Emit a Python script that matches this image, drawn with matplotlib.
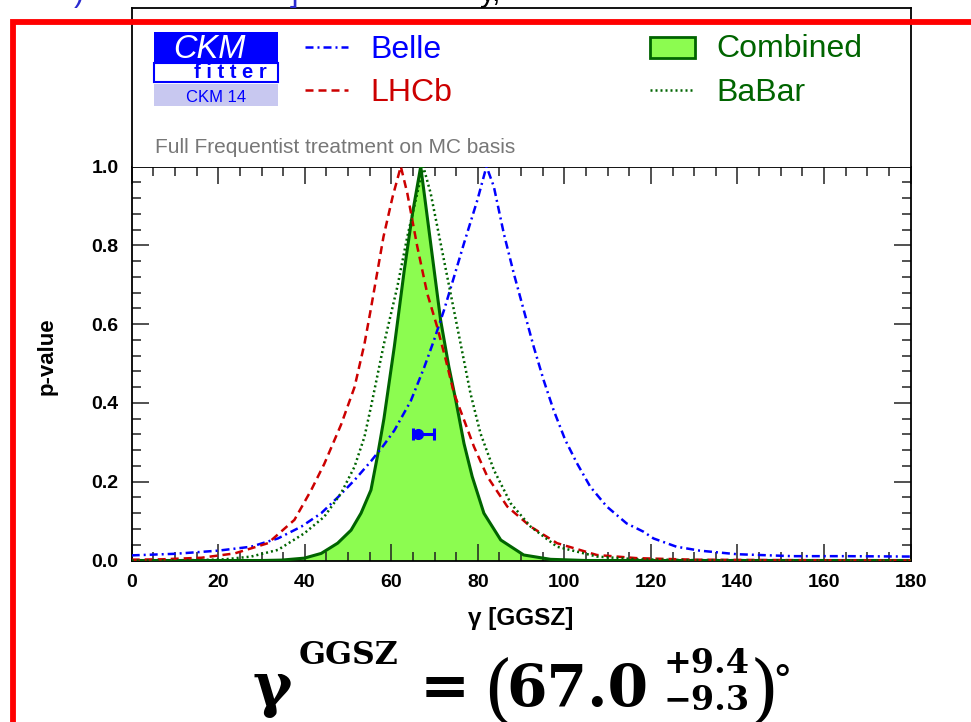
import matplotlib
matplotlib.use('Agg')
import matplotlib.pyplot as plt
from matplotlib.patches import Rectangle
from matplotlib.ticker import MultipleLocator

plt.rcParams['font.family'] = ['Liberation Sans', 'DejaVu Sans']

# --- values (gamma in degrees, p-value) ---
g_belle = [0, 10, 20, 27.6, 33.8, 39.2, 43.8, 47.6, 51.5, 55.3, 58.2, 60.7, 64.5, 67.6,
           69.9, 72.2, 74.5, 76.8, 79.9, 82.0, 83.7, 86.0, 88.3, 90.6, 92.9, 95.2, 97.5,
           100.2, 102.9, 106.0, 109.8, 114.4, 118.3, 120.6, 125.9, 131.3, 139.8, 152.8, 165, 180]
p_belle = [0.013, 0.017, 0.025, 0.035, 0.056, 0.086, 0.120, 0.160, 0.204, 0.252, 0.292, 0.330,
           0.405, 0.490, 0.560, 0.636, 0.720, 0.805, 0.915, 1.0, 0.949, 0.830, 0.729, 0.636,
           0.543, 0.458, 0.382, 0.306, 0.247, 0.187, 0.137, 0.094, 0.073, 0.056, 0.035, 0.025,
           0.016, 0.011, 0.011, 0.010]

g_lhcb = [0, 7, 16.1, 23.8, 31.5, 37.6, 41.5, 44.5, 48.4, 51.5, 53.8, 55.3, 58.2, 60.3, 62.2,
          63.7, 66.0, 68.3, 70.6, 72.6, 74.5, 76.8, 79.1, 82.2, 86.8, 92.2, 98.3, 107.5, 116.7,
          130, 150, 180]
p_lhcb = [0.002, 0.003, 0.007, 0.018, 0.044, 0.103, 0.179, 0.245, 0.345, 0.440, 0.550, 0.640,
          0.822, 0.923, 1.0, 0.932, 0.797, 0.678, 0.593, 0.509, 0.424, 0.357, 0.289, 0.213,
          0.137, 0.086, 0.044, 0.014, 0.006, 0.002, 0.001, 0.0]

g_babar = [0, 15, 21.5, 27.6, 33.8, 39.9, 44.5, 48.4, 51.5, 53.8, 55.3, 56.8, 58.3, 61.4, 63.7,
           66.0, 67.4, 69.1, 71.4, 73.7, 76.0, 78.3, 80.6, 83.7, 87.6, 92.2, 98.3, 107.5, 116.7,
           130, 180]
p_babar = [0.0, 0.001, 0.003, 0.010, 0.027, 0.069, 0.111, 0.171, 0.238, 0.314, 0.390, 0.470,
           0.550, 0.695, 0.822, 0.932, 1.0, 0.932, 0.805, 0.678, 0.551, 0.424, 0.323, 0.230,
           0.145, 0.086, 0.035, 0.010, 0.003, 0.001, 0.0]

g_comb = [0, 30, 34.6, 39.9, 43.8, 47.6, 50.7, 53.0, 55.3, 56.8, 58.3, 60.7, 63.0, 64.9, 66.8,
          68.3, 69.9, 71.4, 73.3, 74.9, 76.8, 78.7, 81.4, 85.3, 90.6, 96.8, 105, 180]
p_comb = [0.0, 0.0, 0.001, 0.006, 0.018, 0.044, 0.077, 0.120, 0.179, 0.265, 0.360, 0.543, 0.737,
          0.881, 1.0, 0.873, 0.737, 0.610, 0.492, 0.407, 0.297, 0.213, 0.120, 0.052, 0.014,
          0.003, 0.0, 0.0]

point_g, point_p = 66.1, 0.32
point_err = [[1.2], [3.8]]

labels = ['Belle', 'LHCb', 'Combined', 'BaBar']
central, err_up, err_dn = '67.0', '+9.4', '\u22129.3'

# colours / styles
blue = '#0000ff'
red = '#cc0000'
dkgreen = '#006400'
ltgreen = '#8cfc50'
ls_belle = (0, (3.2, 1.6, 0.8, 1.6))
ls_lhcb = (0, (3.2, 2.0))
ls_babar = (0, (0.8, 1.2))

W, H = 971, 722
fig = plt.figure(figsize=(W / 100, H / 100), dpi=100)


def fx(px):
    return px / W


def fy(py):
    return 1 - py / H


ax_l, ax_r, ax_t, ax_b, head_t = 131.7, 910.5, 166.5, 560.5, 8
ax = fig.add_axes([fx(ax_l), fy(ax_b), (ax_r - ax_l) / W, (ax_b - ax_t) / H])
axh = fig.add_axes([fx(ax_l), fy(ax_t), (ax_r - ax_l) / W, (ax_t - head_t) / H])

## main plot
ax.fill_between(g_comb, p_comb, color=ltgreen, lw=0, zorder=1)
ax.plot(g_comb, p_comb, color=dkgreen, lw=2.2, zorder=3)
ax.plot(g_belle, p_belle, color=blue, lw=1.8, ls=ls_belle, zorder=3)
ax.plot(g_lhcb, p_lhcb, color=red, lw=1.8, ls=ls_lhcb, zorder=3)
ax.plot(g_babar, p_babar, color=dkgreen, lw=1.8, ls=ls_babar, zorder=3)
ax.errorbar([point_g], [point_p], xerr=point_err, fmt='o', color=blue, ms=7,
            capsize=4, capthick=2.2, elinewidth=2.2, zorder=4)

ax.set_xlim(0, 180)
ax.set_ylim(0, 1)
ax.xaxis.set_major_locator(MultipleLocator(20))
ax.xaxis.set_minor_locator(MultipleLocator(5))
ax.yaxis.set_major_locator(MultipleLocator(0.2))
ax.yaxis.set_minor_locator(MultipleLocator(0.04))
ax.tick_params(which='both', direction='in', top=True, right=True, width=1.1, colors='#222222',
               labelcolor='black')
ax.tick_params(which='major', length=12)
ax.tick_params(which='minor', length=6.5)
ax.tick_params(axis='x', pad=10, labelsize=14)
ax.tick_params(axis='y', pad=9.5, labelsize=14)
for lab in ax.get_xticklabels() + ax.get_yticklabels():
    lab.set_fontweight('bold')
for s in ax.spines.values():
    s.set_linewidth(1.3)

fig.text(fx(47), fy(356), 'p-value', rotation=90, ha='center', va='center',
         fontsize=16, fontweight='bold')
fig.text(fx(520.5), fy(625), '\u03b3 [GGSZ]', ha='center', va='baseline',
         fontsize=17.5, fontweight='bold')

## header panel (legend + logo)
axh.set_xlim(0, 180)
axh.set_ylim(0, 1)
axh.set_xticks([])
axh.set_yticks([])
axh.spines['bottom'].set_visible(False)
for s in ['left', 'right', 'top']:
    axh.spines[s].set_linewidth(1.3)

# CKMfitter logo
axh.add_patch(Rectangle((5.2, 0.655), 28.5, 0.192, fc=blue, ec=blue, lw=0))
axh.add_patch(Rectangle((5.2, 0.535), 28.5, 0.12, fc='white', ec=blue, lw=1.5))
axh.add_patch(Rectangle((5.2, 0.384), 28.5, 0.136, fc='#c8c8f0', ec='none'))
axh.text(17.9, 0.683, 'CKM', color='white', fontsize=23.5, style='italic', ha='center',
         va='baseline')
axh.text(22.8, 0.556, 'f i t t e r', color=blue, fontsize=14.5, fontweight='bold', ha='center',
         va='baseline')
axh.text(19.5, 0.409, 'CKM 14', color=blue, fontsize=12, ha='center', va='baseline')

# legend entries
axh.plot([40, 50], [0.756, 0.756], color=blue, lw=1.8, ls=ls_belle)
axh.plot([40, 50], [0.483, 0.483], color=red, lw=1.8, ls=ls_lhcb)
axh.add_patch(Rectangle((119.8, 0.683), 10.4, 0.136, fc=ltgreen, ec=dkgreen, lw=2))
axh.plot([119.8, 130.2], [0.483, 0.483], color=dkgreen, lw=1.8, ls=ls_babar)
axh.text(55.1, 0.683, labels[0], color=blue, fontsize=23, va='baseline')
axh.text(55.1, 0.413, labels[1], color=red, fontsize=23, va='baseline')
axh.text(135.2, 0.689, labels[2], color=dkgreen, fontsize=23, va='baseline')
axh.text(135.2, 0.413, labels[3], color=dkgreen, fontsize=23, va='baseline')
axh.text(5.4, 0.087, 'Full Frequentist treatment on MC basis', color='#777777', fontsize=15,
         va='baseline')

## result formula below the plot
serif = 'DejaVu Serif'
fig.text(fx(253), fy(706), '\u03b3', family=serif, fontweight='bold', fontsize=43, va='baseline')
fig.text(fx(299), fy(664.5), 'GGSZ', family=serif, fontweight='bold', fontsize=22.7, va='baseline')
fig.text(fx(420), fy(706), '=', family=serif, fontweight='bold', fontsize=43, va='baseline')
fig.text(fx(483), fy(713), '(', family=serif, fontsize=54, va='baseline')
fig.text(fx(506), fy(706), central, family=serif, fontweight='bold', fontsize=42, va='baseline')
fig.text(fx(663), fy(673), err_up, family=serif, fontweight='bold', fontsize=24, va='baseline')
fig.text(fx(663), fy(710), err_dn, family=serif, fontweight='bold', fontsize=24, va='baseline')
fig.text(fx(750), fy(713), ')', family=serif, fontsize=54, va='baseline')
fig.text(fx(772), fy(693), '\u00b0', family=serif, fontsize=28, va='baseline')

# clipped text fragments at the very top edge
fig.text(fx(74), fy(1), ')', color='#2a2ad0', fontsize=22, va='baseline')
fig.text(fx(290), fy(1), ']', color='#2a2ad0', fontsize=22, va='baseline')
fig.text(fx(480), fy(1), 'y,', color='black', fontsize=22, va='baseline')

# red frame
fig.add_artist(Rectangle((fx(13), -0.1), 1.2, fy(21.5) + 0.1, transform=fig.transFigure,
                         fill=False, ec='#ff0000', lw=4.2, zorder=10))

fig.savefig('out.png', dpi=100)
